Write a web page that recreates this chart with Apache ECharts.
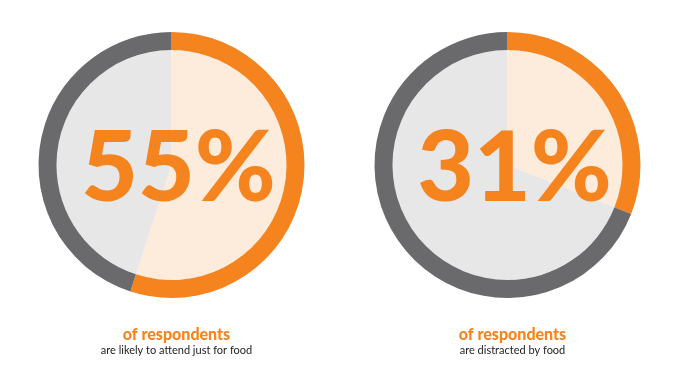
<!DOCTYPE html>
<html>
<head>
<meta charset="utf-8">
<script src="https://cdn.jsdelivr.net/npm/echarts@6/dist/echarts.min.js"></script>
<style>
  html, body { margin: 0; padding: 0; background: #ffffff; }
  #chart { width: 689px; height: 385px; }
</style>
</head>
<body>
<div id="chart"></div>
<script>
const percents = [55, 31];
const headlines = ['of respondents', 'of respondents'];
const captions = ['are likely to attend just for food', 'are distracted by food'];
const centersX = [171.5, 507.5];

const chart = echarts.init(document.getElementById('chart'), null, { renderer: 'canvas' });

const series = [];
const titles = [];
percents.forEach((p, i) => {
  const center = [centersX[i], 165];
  series.push({
    type: 'pie', silent: true, center: center, radius: [0, 115],
    startAngle: 90, clockwise: true, label: { show: false }, labelLine: { show: false },
    emphasis: { disabled: true }, animation: false,
    data: [
      { value: p, itemStyle: { color: '#FDEBDB' } },
      { value: 100 - p, itemStyle: { color: '#E7E7E7' } }
    ]
  });
  series.push({
    type: 'pie', silent: true, center: center, radius: [115, 133],
    startAngle: 90, clockwise: true, label: { show: false }, labelLine: { show: false },
    emphasis: { disabled: true }, animation: false,
    data: [
      { value: p, itemStyle: { color: '#F5841F' } },
      { value: 100 - p, itemStyle: { color: '#6A6A6C' } }
    ]
  });
  titles.push({
    text: p + '%', left: centersX[i] + 2, top: 114, textAlign: 'center',
    textStyle: { color: '#F5841F', fontFamily: 'Lato', fontWeight: 900, fontSize: 98, lineHeight: 100 }
  });
  titles.push({
    text: headlines[i], left: centersX[i], top: 320, textAlign: 'center',
    textStyle: { color: '#F5841F', fontFamily: 'Lato', fontWeight: 900, fontSize: 16, lineHeight: 20 }
  });
  titles.push({
    text: captions[i], left: centersX[i], top: 338, textAlign: 'center',
    textStyle: { color: '#222222', fontFamily: 'Lato', fontWeight: 'normal', fontSize: 11, lineHeight: 14 }
  });
});

chart.setOption({ animation: false, title: titles, series: series });
</script>
</body>
</html>
